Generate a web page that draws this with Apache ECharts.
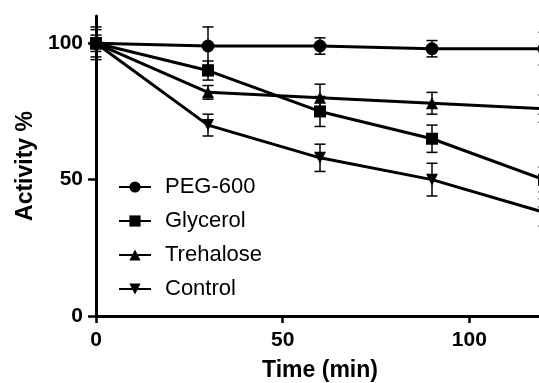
<!DOCTYPE html>
<html>
<head>
<meta charset="utf-8">
<script src="https://cdn.jsdelivr.net/npm/echarts@6/dist/echarts.min.js"></script>
<style>
  html, body { margin: 0; padding: 0; background: #fff; }
  #chart { width: 539px; height: 383px; }
</style>
</head>
<body>
<div id="chart"></div>
<script>
// data
var times = [0, 30, 60, 90, 120];
var xTicks = [0, 50, 100];
var yTicks = [0, 50, 100];
var names = ['PEG-600', 'Glycerol', 'Trehalose', 'Control'];
var peg = [100, 99, 99, 98, 98];
var pegErr = [5, 7, 3, 3, 6];
var glycerol = [100, 90, 75, 65, 50];
var glyErr = [6, 3.5, 5.5, 5, 4.5];
var trehalose = [100, 82, 80, 78, 76];
var treErr = [2, 2.5, 5, 4, 5];
var control = [100, 70, 58, 50, 38];
var conErr = [3, 4, 5, 6, 5];

var symbols = ['circle', 'rect', 'triangle', 'triangle'];
var rotates = [0, 0, 0, 180];
var values = [peg, glycerol, trehalose, control];
var errs = [pegErr, glyErr, treErr, conErr];

function pairs(v) {
  return times.map(function (t, i) { return [t, v[i]]; });
}
function bars(v, e) {
  return times.map(function (t, i) { return [t, v[i] - e[i], v[i] + e[i]]; });
}

function renderErr(params, api) {
  var x = api.value(0);
  var lo = api.coord([x, api.value(1)]);
  var hi = api.coord([x, api.value(2)]);
  var w = 5.5;
  var st = { stroke: '#000', lineWidth: 1.5 };
  return {
    type: 'group',
    children: [
      { type: 'line', shape: { x1: lo[0], y1: lo[1], x2: hi[0], y2: hi[1] }, style: st },
      { type: 'line', shape: { x1: hi[0] - w, y1: hi[1], x2: hi[0] + w, y2: hi[1] }, style: st },
      { type: 'line', shape: { x1: lo[0] - w, y1: lo[1], x2: lo[0] + w, y2: lo[1] }, style: st }
    ]
  };
}

var series = [];
values.forEach(function (v, i) {
  series.push({
    type: 'custom',
    renderItem: renderErr,
    data: bars(v, errs[i]),
    encode: { x: 0, y: [1, 2] },
    clip: false,
    z: 1,
    silent: true
  });
});
values.forEach(function (v, i) {
  series.push({
    name: names[i],
    type: 'line',
    data: pairs(v),
    symbol: symbols[i],
    symbolRotate: rotates[i],
    symbolSize: i == 0 ? 13 : 12,
    showAllSymbol: true,
    clip: false,
    lineStyle: { color: '#000', width: 3 },
    itemStyle: { color: '#000' },
    z: 3
  });
});

var myChart = echarts.init(document.getElementById('chart'));
myChart.setOption({
  animation: false,
  backgroundColor: '#fff',
  textStyle: { fontFamily: 'Liberation Sans, Arial, sans-serif' },
  grid: { left: 96, width: 448, top: 16, height: 300, containLabel: false, outerBoundsMode: 'none' },
  legend: {
    data: names,
    orient: 'vertical',
    left: 113,
    top: 171,
    itemWidth: 32,
    itemHeight: 14,
    itemGap: 12,
    textStyle: { fontSize: 22, color: '#000', padding: [0, 0, 0, 9], lineHeight: 22 }
  },
  xAxis: {
    type: 'value',
    min: 0,
    max: 120,
    name: 'Time (min)',
    nameLocation: 'middle',
    nameGap: 43,
    nameTextStyle: { fontSize: 23, fontWeight: 'bold', color: '#000' },
    axisLine: { onZero: false, lineStyle: { color: '#000', width: 3 } },
    axisTick: { customValues: xTicks, length: 7, lineStyle: { width: 2.5 } },
    axisLabel: { customValues: xTicks, fontSize: 21, fontWeight: 'bold', color: '#000', margin: 14 },
    splitLine: { show: false }
  },
  yAxis: {
    type: 'value',
    min: 0,
    max: 110,
    name: 'Activity %',
    nameLocation: 'middle',
    nameGap: 59,
    nameTextStyle: { fontSize: 23, fontWeight: 'bold', color: '#000' },
    axisLine: { show: true, onZero: false, lineStyle: { color: '#000', width: 3 } },
    axisTick: { show: true, customValues: yTicks, length: 8, lineStyle: { width: 2.5 } },
    axisLabel: { customValues: yTicks, fontSize: 21, fontWeight: 'bold', color: '#000', margin: 13 },
    splitLine: { show: false }
  },
  series: series
});
</script>
</body>
</html>
